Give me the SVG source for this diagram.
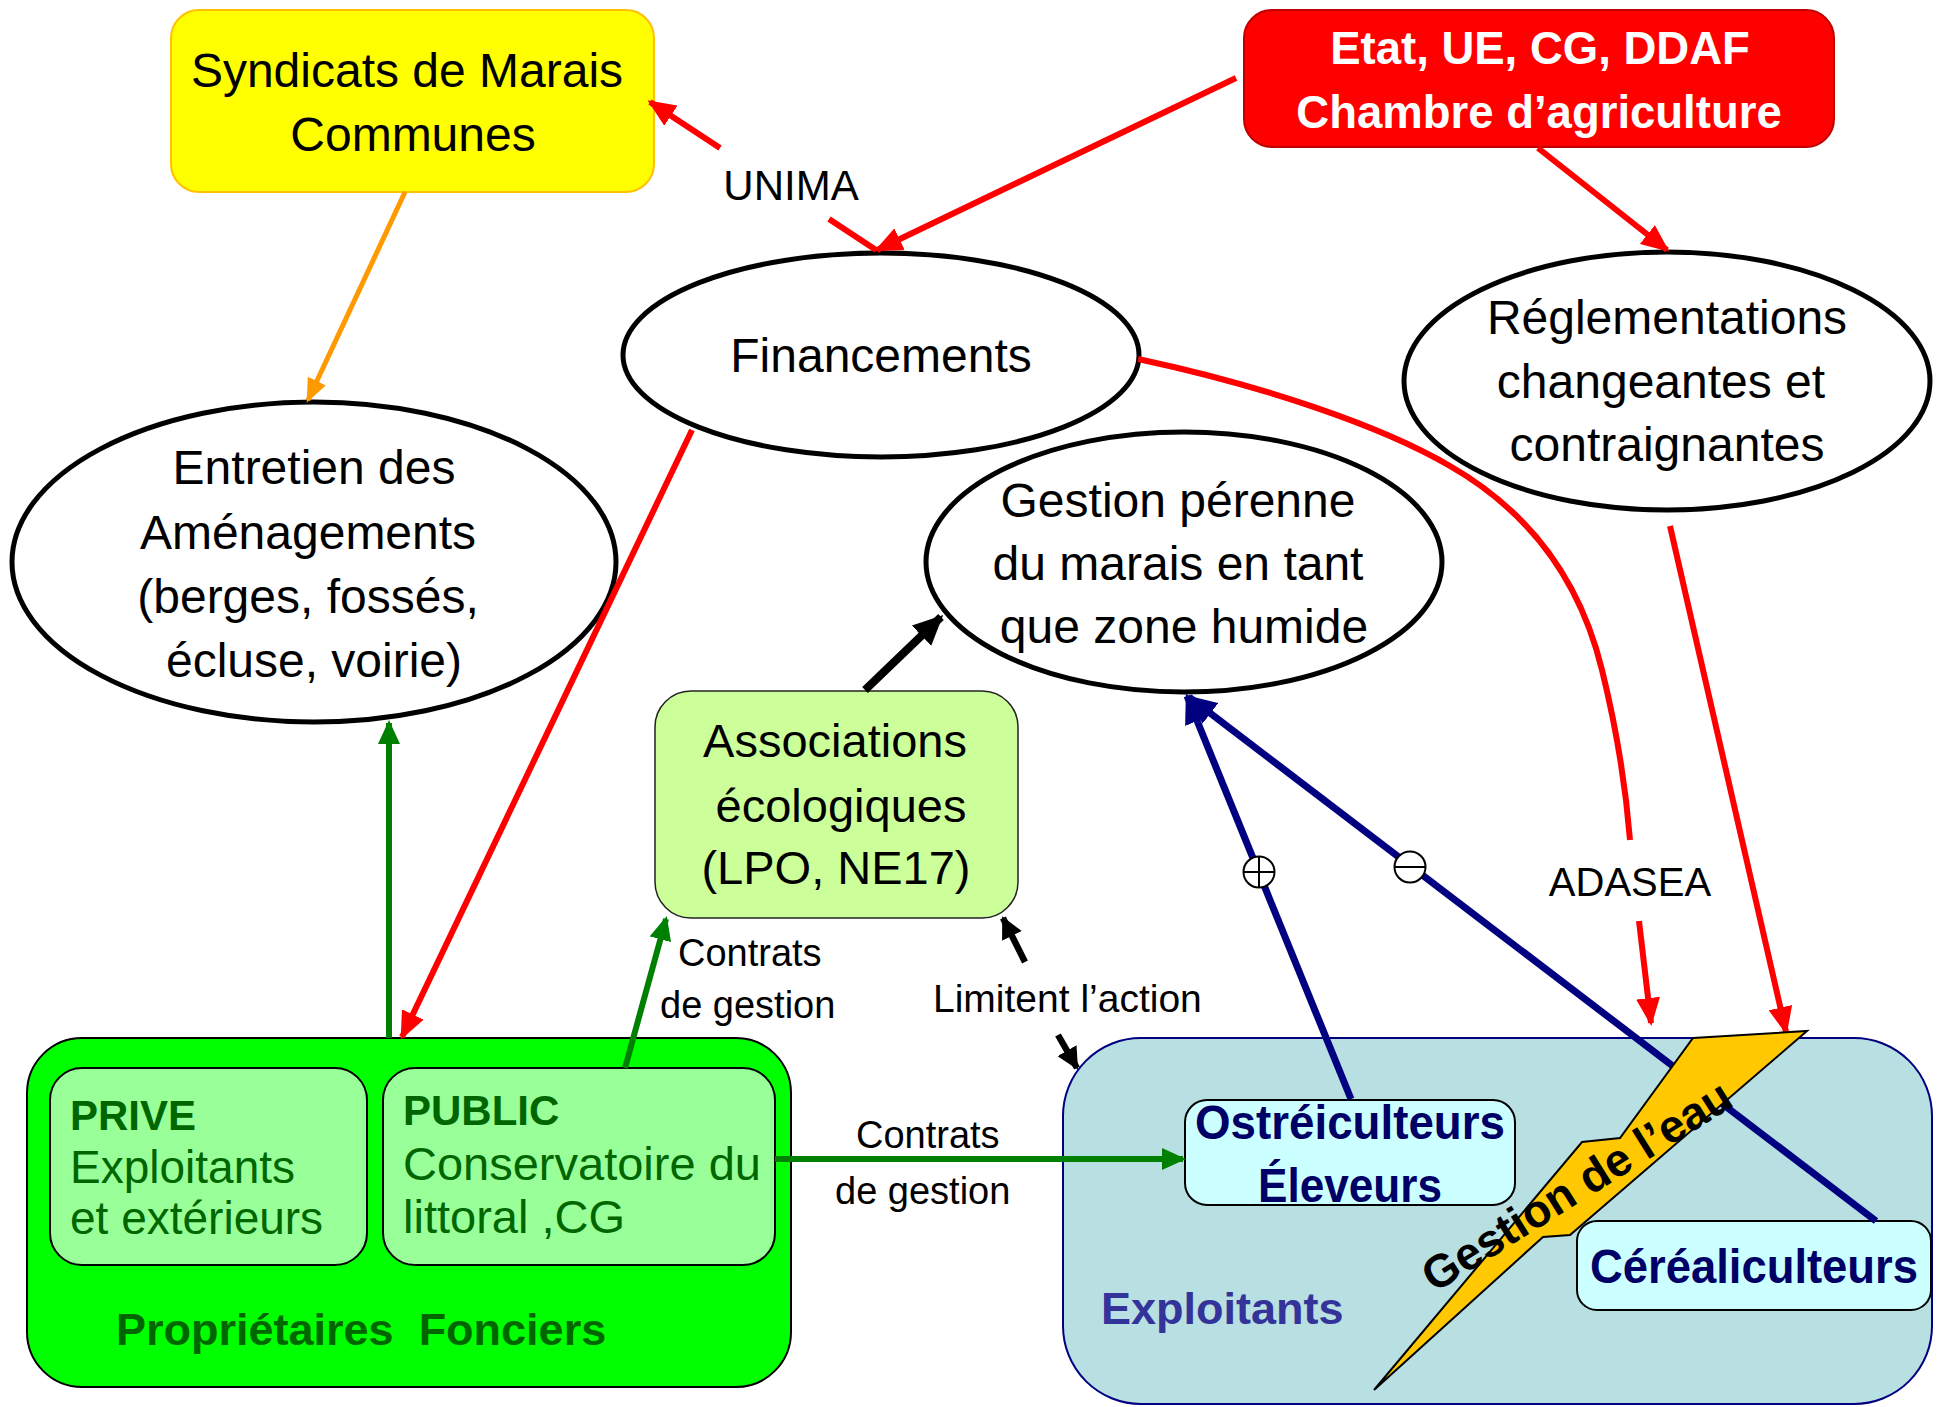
<svg xmlns="http://www.w3.org/2000/svg" width="1941" height="1407" viewBox="0 0 1941 1407">
<style>
text{font-family:"Liberation Sans",Arial,sans-serif}
.c{text-anchor:middle}
.t48{font-size:48px;fill:#000}
.lbl{font-size:38px;fill:#000}
.ell{fill:#fff;stroke:#000;stroke-width:5}
.red{stroke:#ff0000;stroke-width:6;fill:none}
.grn{stroke:#008000;stroke-width:6;fill:none}
.org{stroke:#ff9900;stroke-width:5;fill:none}
.nav{stroke:#000080;stroke-width:7;fill:none}
.blk{stroke:#000;stroke-width:8;fill:none}
.blks{stroke:#000;stroke-width:6.5;fill:none}
.sym{fill:#fff;stroke:#000;stroke-width:2}
.symL{stroke:#000;stroke-width:2}
.pf{fill:#006600}
.exb{fill:#000066;font-weight:bold;font-size:49px}
</style>
<defs>
<marker id="mRed" markerUnits="userSpaceOnUse" markerWidth="28" markerHeight="24" refX="25" refY="12" orient="auto"><path d="M0,0 L28,12 L0,24 z" fill="#ff0000"/></marker>
<marker id="mGrn" markerUnits="userSpaceOnUse" markerWidth="24" markerHeight="22" refX="21" refY="11" orient="auto"><path d="M0,0 L24,11 L0,22 z" fill="#008000"/></marker>
<marker id="mOrg" markerUnits="userSpaceOnUse" markerWidth="24" markerHeight="20" refX="21" refY="10" orient="auto"><path d="M0,0 L24,10 L0,20 z" fill="#ff9900"/></marker>
<marker id="mNav" markerUnits="userSpaceOnUse" markerWidth="30" markerHeight="26" refX="27" refY="13" orient="auto"><path d="M0,0 L30,13 L0,26 z" fill="#000080"/></marker>
<marker id="mBlk" markerUnits="userSpaceOnUse" markerWidth="30" markerHeight="28" refX="27" refY="14" orient="auto"><path d="M0,0 L30,14 L0,28 z" fill="#000"/></marker>
<marker id="mBlkS" markerUnits="userSpaceOnUse" markerWidth="22" markerHeight="22" refX="20" refY="11" orient="auto"><path d="M0,0 L22,11 L0,22 z" fill="#000"/></marker>
</defs>

<g id="node-syndicats">
<rect x="171" y="10" width="483" height="182" rx="28" fill="#ffff00" stroke="#ffc000" stroke-width="2"/>
<text class="t48 c" x="407" y="87">Syndicats de Marais</text>
<text class="t48 c" x="413" y="151">Communes</text>
</g>

<g id="node-etat">
<rect x="1244" y="10" width="590" height="137" rx="28" fill="#ff0000" stroke="#c00000" stroke-width="2"/>
<text class="c" x="1540" y="64" font-size="45.5" font-weight="bold" fill="#fff">Etat, UE, CG, DDAF</text>
<text class="c" x="1539" y="128" font-size="45.5" font-weight="bold" fill="#fff">Chambre d’agriculture</text>
</g>

<g id="node-financements">
<ellipse class="ell" cx="881" cy="355" rx="258" ry="102"/>
<text class="t48 c" x="881" y="372">Financements</text>
</g>

<g id="node-reglementations">
<ellipse class="ell" cx="1667" cy="381" rx="263" ry="129"/>
<text class="t48 c" x="1667" y="334">Réglementations</text>
<text class="t48 c" x="1661" y="398">changeantes et</text>
<text class="t48 c" x="1667" y="461">contraignantes</text>
</g>

<g id="node-entretien">
<ellipse class="ell" cx="314" cy="562" rx="302" ry="160"/>
<text class="t48 c" x="314" y="484">Entretien des</text>
<text class="t48 c" x="308" y="549">Aménagements</text>
<text class="t48 c" x="308" y="613">(berges, fossés,</text>
<text class="t48 c" x="314" y="677">écluse, voirie)</text>
</g>

<g id="node-gestion-perenne">
<ellipse class="ell" cx="1184" cy="562" rx="258" ry="130"/>
<text class="t48 c" x="1178" y="517">Gestion pérenne</text>
<text class="t48 c" x="1178" y="580">du marais en tant</text>
<text class="t48 c" x="1184" y="643">que zone humide</text>
</g>

<g id="node-associations">
<rect x="655" y="691" width="363" height="227" rx="36" fill="#ccff99" stroke="#222" stroke-width="1.5"/>
<text class="c" x="835" y="757" font-size="47">Associations</text>
<text class="c" x="841" y="822" font-size="47">écologiques</text>
<text class="c" x="836" y="884" font-size="47">(LPO, NE17)</text>
</g>

<g id="node-proprietaires">
<rect x="27" y="1038" width="764" height="349" rx="55" fill="#00ff00" stroke="#000" stroke-width="2"/>
<text class="pf" x="116" y="1345" font-size="45" font-weight="bold" xml:space="preserve">Propriétaires  Fonciers</text>
</g>

<g id="node-prive">
<rect x="50" y="1068" width="317" height="197" rx="32" fill="#99ff99" stroke="#000" stroke-width="2"/>
<text class="pf" x="70" y="1130" font-size="42" font-weight="bold">PRIVE</text>
<text class="pf" x="70" y="1183" font-size="46">Exploitants</text>
<text class="pf" x="70" y="1234" font-size="46">et extérieurs</text>
</g>

<g id="node-public">
<rect x="383" y="1068" width="392" height="197" rx="32" fill="#99ff99" stroke="#000" stroke-width="2"/>
<text class="pf" x="403" y="1125" font-size="42" font-weight="bold">PUBLIC</text>
<text class="pf" x="403" y="1180" font-size="47">Conservatoire du</text>
<text class="pf" x="403" y="1233" font-size="47">littoral ,CG</text>
</g>

<g id="node-exploitants">
<rect x="1063" y="1038" width="869" height="366" rx="78" fill="#b8dfe2" stroke="#000080" stroke-width="2"/>
<text x="1101" y="1324" font-size="45" font-weight="bold" fill="#333399">Exploitants</text>
</g>

<g id="node-ostreiculteurs">
<rect x="1185" y="1100" width="330" height="105" rx="22" fill="#ccffff" stroke="#000" stroke-width="2"/>
<text class="exb c" x="1350" y="1139" textLength="310" lengthAdjust="spacingAndGlyphs">Ostréiculteurs</text>
<text class="exb c" x="1350" y="1202" textLength="184" lengthAdjust="spacingAndGlyphs">Éleveurs</text>
</g>

<g id="node-cerealiculteurs">
<rect x="1577" y="1221" width="354" height="89" rx="20" fill="#ccffff" stroke="#000" stroke-width="2"/>
<text class="exb c" x="1754" y="1283" textLength="328" lengthAdjust="spacingAndGlyphs">Céréaliculteurs</text>
</g>

<g id="connectors">
<path class="org" d="M405,192 L308,400" marker-end="url(#mOrg)"/>
<path class="red" d="M1236,78 L877,250" marker-end="url(#mRed)"/>
<path class="red" d="M876,250 L829,219"/>
<path class="red" d="M720,148 L650,102" marker-end="url(#mRed)"/>
<text class="c" x="791" y="200" font-size="42" fill="#000">UNIMA</text>
<path class="red" d="M1538,148 L1667,250" marker-end="url(#mRed)"/>
<path class="red" d="M692,430 L402,1037" marker-end="url(#mRed)"/>
<path class="red" d="M1138,359 C1260,385 1380,425 1450,466 C1530,512 1580,580 1602,670 C1618,735 1626,790 1630,840"/>
<path class="red" d="M1639,921 L1651,1023" marker-end="url(#mRed)"/>
<text class="c" x="1630" y="896" font-size="40" fill="#000">ADASEA</text>
<path class="red" d="M1670,526 L1786,1032" marker-end="url(#mRed)"/>
<path class="grn" d="M389,1038 L389,723" marker-end="url(#mGrn)"/>
<path class="grn" d="M625,1068 L666,919" marker-end="url(#mGrn)"/>
<text class="lbl" x="678" y="966">Contrats</text>
<text class="lbl" x="660" y="1018">de gestion</text>
<path class="grn" d="M775,1159 L1183,1159" marker-end="url(#mGrn)"/>
<text class="lbl" x="856" y="1148">Contrats</text>
<text class="lbl" x="835" y="1204">de gestion</text>
<path class="blk" d="M865,690 L941,617" marker-end="url(#mBlk)"/>
<path class="blks" d="M1025,962 L1003,918" marker-end="url(#mBlkS)"/>
<path class="blks" d="M1058,1035 L1077,1068" marker-end="url(#mBlkS)"/>
<text x="933" y="1012" font-size="39" fill="#000">Limitent l’action</text>
<path class="nav" d="M1351,1099 L1187,696" marker-end="url(#mNav)"/>
<path class="nav" d="M1876,1221 L1189,697" marker-end="url(#mNav)"/>
<circle class="sym" cx="1259" cy="872" r="15.5"/>
<path class="symL" d="M1243.5,872 H1274.5 M1259,856.5 V887.5"/>
<circle class="sym" cx="1410" cy="867" r="15.5"/>
<path class="symL" d="M1394.5,867 H1425.5"/>
</g>

<g id="node-gestion-eau">
<polygon points="1693,1038 1807,1031 1570,1235 1543,1237 1374,1390 1582,1142 1620,1138" fill="#ffc800" stroke="#000" stroke-width="2" stroke-linejoin="miter"/>
<text class="c" x="1585" y="1199" font-size="46" font-weight="bold" fill="#000" transform="rotate(-32 1585 1199)">Gestion de l’eau</text>
</g>
</svg>
